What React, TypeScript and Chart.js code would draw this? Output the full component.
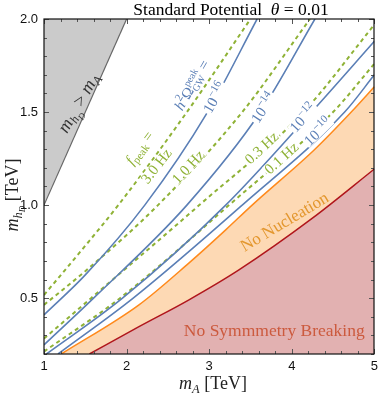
import React, { useEffect, useRef } from "react";
import { Chart, registerables } from "chart.js";
Chart.register(...registerables);

// ---- axes ----
const xTicks = [1, 2, 3, 4, 5];
const yTicks = [0.5, 1.0, 1.5, 2.0];

// ---- excluded region m_hD > m_A (boundary m_hD = m_A) ----
const diagMA = [1.0, 2.0];
const diagMH = [1.0, 2.0];

// ---- f_peak contours (green dashed) ----
const f30MA = [1.0, 1.45, 1.9, 2.73, 3.5];
const f30MH = [0.517, 0.755, 1.0, 1.5, 2.0];
const f10MA = [1.0, 1.5, 2.38, 3.4, 4.22];
const f10MH = [0.464, 0.645, 1.0, 1.5, 2.0];
const f03MA = [1.0, 1.57, 2.88, 4.14, 5.0];
const f03MH = [0.283, 0.5, 1.0, 1.5, 1.97];
const f01MA = [1.0, 1.92, 3.24, 4.5, 5.0];
const f01MH = [0.213, 0.5, 1.0, 1.5, 1.76];

// ---- h^2 Omega_GW^peak contours (blue solid) ----
const o16MA = [1.0, 1.5, 2.22, 2.98, 3.58];
const o16MH = [0.41, 0.625, 1.0, 1.5, 2.0];
const o14MA = [1.0, 1.6, 2.73, 3.62, 4.28];
const o14MH = [0.249, 0.5, 1.0, 1.5, 2.0];
const o12MA = [1.03, 1.95, 3.2, 4.24, 5.0];
const o12MH = [0.2, 0.5, 1.0, 1.5, 1.88];
const o10MA = [1.17, 2.08, 3.4, 4.64, 5.0];
const o10MH = [0.2, 0.5, 1.0, 1.5, 1.7];

// ---- region boundaries ----
const nucMA = [1.21, 2.15, 2.75, 3.2, 3.52, 4.28, 4.72, 5.0];
const nucMH = [0.2, 0.464, 0.687, 0.867, 1.0, 1.3, 1.5, 1.636];
const symMA = [1.55, 2.15, 2.75, 3.36, 4.25, 5.0];
const symMH = [0.2, 0.347, 0.49, 0.652, 0.93, 1.194];

const BLUE = "#5b7fb6";
const GREEN = "#8fb236";
const SERIF = '"Liberation Serif", "Times New Roman", serif';
const F = (size: number, italic = false) => `${italic ? "italic " : ""}${size}px ${SERIF}`;

type Seg = { t: string; font: string; dy?: number; noAdv?: boolean };

function drawRich(
  ctx: CanvasRenderingContext2D,
  segs: Seg[],
  cx: number,
  cy: number,
  angDeg: number,
  color: string,
  base: number,
  bgH = 0
) {
  ctx.save();
  ctx.translate(cx, cy);
  ctx.rotate((angDeg * Math.PI) / 180);
  let w = 0;
  const ws = segs.map((s) => {
    ctx.font = s.font;
    const m = ctx.measureText(s.t).width;
    if (!s.noAdv) w += m;
    return m;
  });
  if (bgH > 0) {
    ctx.fillStyle = "#ffffff";
    ctx.fillRect(-w / 2 - 1.5, -bgH / 2, w + 3, bgH);
  }
  ctx.fillStyle = color;
  ctx.textAlign = "left";
  ctx.textBaseline = "alphabetic";
  let x = -w / 2;
  segs.forEach((s, i) => {
    ctx.font = s.font;
    ctx.fillText(s.t, x, base + (s.dy || 0));
    if (!s.noAdv) x += ws[i];
  });
  ctx.restore();
}

const pts = (xs: number[], ys: number[]) => xs.map((x, i) => ({ x, y: ys[i] }));

const hz = (t: string): Seg[] => [{ t, font: F(15) }];
const pow = (e: string): Seg[] => [
  { t: "10", font: F(15) },
  { t: "\u2212" + e, font: F(11), dy: -6.5 },
];

const decor = {
  id: "decor",
  afterDatasetsDraw(chart: any) {
    const ctx: CanvasRenderingContext2D = chart.ctx;
    const xs = chart.scales.x;
    const ys = chart.scales.y;
    const P = (a: number, b: number) => [xs.getPixelForValue(a), ys.getPixelForValue(b)];

    // contour labels
    const lab = (segs: Seg[], a: number, b: number, ang: number, col: string, bg = 11) => {
      const [px, py] = P(a, b);
      drawRich(ctx, segs, px, py, ang, col, 5, bg);
    };
    lab(hz("3.0 Hz"), 2.358, 1.211, -52, GREEN);
    lab(hz("1.0 Hz"), 2.743, 1.206, -47, GREEN);
    lab(hz("0.3 Hz"), 3.632, 1.308, -43, GREEN);
    lab(hz("0.1 Hz"), 3.873, 1.254, -42, GREEN);
    lab(pow("16"), 3.067, 1.577, -60, BLUE);
    lab(pow("14"), 3.656, 1.523, -56, BLUE);
    lab(pow("12"), 4.137, 1.469, -48, BLUE);
    lab(pow("10"), 4.317, 1.394, -44, BLUE);
    lab(
      [
        { t: "f", font: F(15, true) },
        { t: "peak", font: F(11), dy: 3.5 },
        { t: " =", font: F(15) },
      ],
      2.154,
      1.308,
      -54,
      GREEN,
      0
    );
    lab(
      [
        { t: "h", font: F(15, true) },
        { t: "2", font: F(11), dy: -6.5 },
        { t: "\u03A9", font: F(15) },
        { t: "GW", font: F(10), dy: 3.5, noAdv: true },
        { t: "peak", font: F(10), dy: -6.5 },
        { t: " =", font: F(15) },
      ],
      2.79,
      1.645,
      -60,
      BLUE,
      0
    );

    // region labels
    {
      const [px, py] = P(1.42, 1.55);
      drawRich(
        ctx,
        [
          { t: "m", font: F(18, true) },
          { t: "h", font: F(12.5, true), dy: 3.5 },
          { t: "D", font: F(9, true), dy: 7 },
          { t: " > ", font: F(18) },
          { t: "m", font: F(18, true) },
          { t: "A", font: F(12.5, true), dy: 3.5 },
        ],
        px,
        py,
        -60,
        "#333333",
        5.5
      );
    }
    {
      const [px, py] = P(3.909, 0.911);
      drawRich(ctx, [{ t: "No Nucleation", font: F(17) }], px, py, -31, "#e3972e", 5.5);
    }
    {
      const [px, py] = P(3.788, 0.325);
      drawRich(ctx, [{ t: "No Symmmetry Breaking", font: F(17.5) }], px, py, 0, "#cc5a3e", 5.5);
    }

    // frame + inward ticks
    const { left, right, top, bottom } = chart.chartArea;
    const L = Math.round(left), R = Math.round(right), T = Math.round(top), B = Math.round(bottom);
    ctx.save();
    ctx.strokeStyle = "#555555";
    ctx.lineWidth = 1;
    ctx.beginPath();
    for (let v = 1; v <= 5.0001; v += 0.2) {
      const major = Math.abs(v - Math.round(v)) < 1e-6;
      const len = major ? 5 : 3;
      const x = Math.round(xs.getPixelForValue(v)) + 0.5;
      ctx.moveTo(x, B); ctx.lineTo(x, B - len);
      ctx.moveTo(x, T); ctx.lineTo(x, T + len);
    }
    for (let k = 2; k <= 20; k++) {
      const v = k / 10;
      const major = k % 5 === 0;
      const len = major ? 5 : 3;
      const y = Math.round(ys.getPixelForValue(v)) + 0.5;
      ctx.moveTo(L, y); ctx.lineTo(L + len, y);
      ctx.moveTo(R, y); ctx.lineTo(R - len, y);
    }
    ctx.stroke();
    ctx.strokeStyle = "#111111";
    ctx.lineWidth = 1.2;
    ctx.strokeRect(L, T, R - L, B - T);
    ctx.restore();

    // title and axis titles
    drawRich(
      ctx,
      [
        { t: "Standard Potential  ", font: F(17.5) },
        { t: "\u03B8", font: F(17.5, true) },
        { t: " = 0.01", font: F(17.5) },
      ],
      231,
      9,
      0,
      "#000000",
      5.5
    );
    drawRich(
      ctx,
      [
        { t: "m", font: F(18, true) },
        { t: "A", font: F(12.5, true), dy: 4 },
        { t: " [TeV]", font: F(18) },
      ],
      213,
      383,
      0,
      "#222222",
      5.5
    );
    drawRich(
      ctx,
      [
        { t: "m", font: F(18, true) },
        { t: "h", font: F(12.5, true), dy: 4 },
        { t: "D", font: F(9, true), dy: 7 },
        { t: " [TeV]", font: F(18) },
      ],
      12,
      195,
      -90,
      "#222222",
      5.5
    );
  },
};

export default function App() {
  const ref = useRef<HTMLCanvasElement | null>(null);
  useEffect(() => {
    if (!ref.current) return;
    const line = (xs: number[], ys: number[], color: string, dashed: boolean) => ({
      data: pts(xs, ys),
      borderColor: color,
      borderWidth: dashed ? 2 : 1.6,
      borderDash: dashed ? [4, 3.5] : [],
      pointRadius: 0,
      fill: false,
      cubicInterpolationMode: "monotone" as const,
    });
    const chart = new Chart(ref.current, {
      type: "line",
      data: {
        datasets: [
          line(o16MA, o16MH, BLUE, false),
          line(o14MA, o14MH, BLUE, false),
          line(o12MA, o12MH, BLUE, false),
          line(o10MA, o10MH, BLUE, false),
          line(f30MA, f30MH, GREEN, true),
          line(f10MA, f10MH, GREEN, true),
          line(f03MA, f03MH, GREEN, true),
          line(f01MA, f01MH, GREEN, true),
          {
            data: pts(diagMA, diagMH),
            borderColor: "#666666",
            borderWidth: 1.2,
            backgroundColor: "#cbcbcb",
            fill: "end",
            pointRadius: 0,
          },
          {
            data: pts(symMA, symMH),
            borderColor: "#b0161c",
            borderWidth: 1.5,
            backgroundColor: "#e2b1b1",
            fill: "start",
            pointRadius: 0,
            cubicInterpolationMode: "monotone",
          },
          {
            data: pts(nucMA, nucMH),
            borderColor: "#ff8a1c",
            borderWidth: 1.5,
            backgroundColor: "#fdd9b4",
            fill: "start",
            pointRadius: 0,
            cubicInterpolationMode: "monotone",
          },
        ] as any,
      },
      options: {
        animation: false,
        responsive: false,
        devicePixelRatio: 1,
        layout: { padding: { left: 0, right: 6, top: 19, bottom: 0 } },
        plugins: { legend: { display: false }, tooltip: { enabled: false }, title: { display: false } },
        scales: {
          x: {
            type: "linear",
            min: 1,
            max: 5,
            grid: { display: false, drawTicks: false },
            border: { display: false },
            afterBuildTicks: (s: any) => {
              s.ticks = xTicks.map((v) => ({ value: v }));
            },
            afterFit: (s: any) => {
              s.height = 41;
            },
            ticks: {
              padding: 5,
              color: "#111111",
              maxRotation: 0,
              autoSkip: false,
              font: { family: '"Liberation Sans", Arial, sans-serif', size: 13 },
              callback: (v: any) => String(v),
            },
          },
          y: {
            type: "linear",
            min: 0.2,
            max: 2.0,
            grid: { display: false, drawTicks: false },
            border: { display: false },
            afterBuildTicks: (s: any) => {
              s.ticks = yTicks.map((v) => ({ value: v }));
            },
            afterFit: (s: any) => {
              s.width = 44;
            },
            ticks: {
              padding: 6,
              color: "#111111",
              autoSkip: false,
              font: { family: '"Liberation Sans", Arial, sans-serif', size: 13 },
              callback: (v: any) => Number(v).toFixed(1),
            },
          },
        },
      },
      plugins: [decor],
    });
    return () => chart.destroy();
  }, []);
  return (
    <div style={{ position: "absolute", left: 0, top: 0, width: 383, height: 395 }}>
      <canvas ref={ref} width={383} height={395} />
    </div>
  );
}
